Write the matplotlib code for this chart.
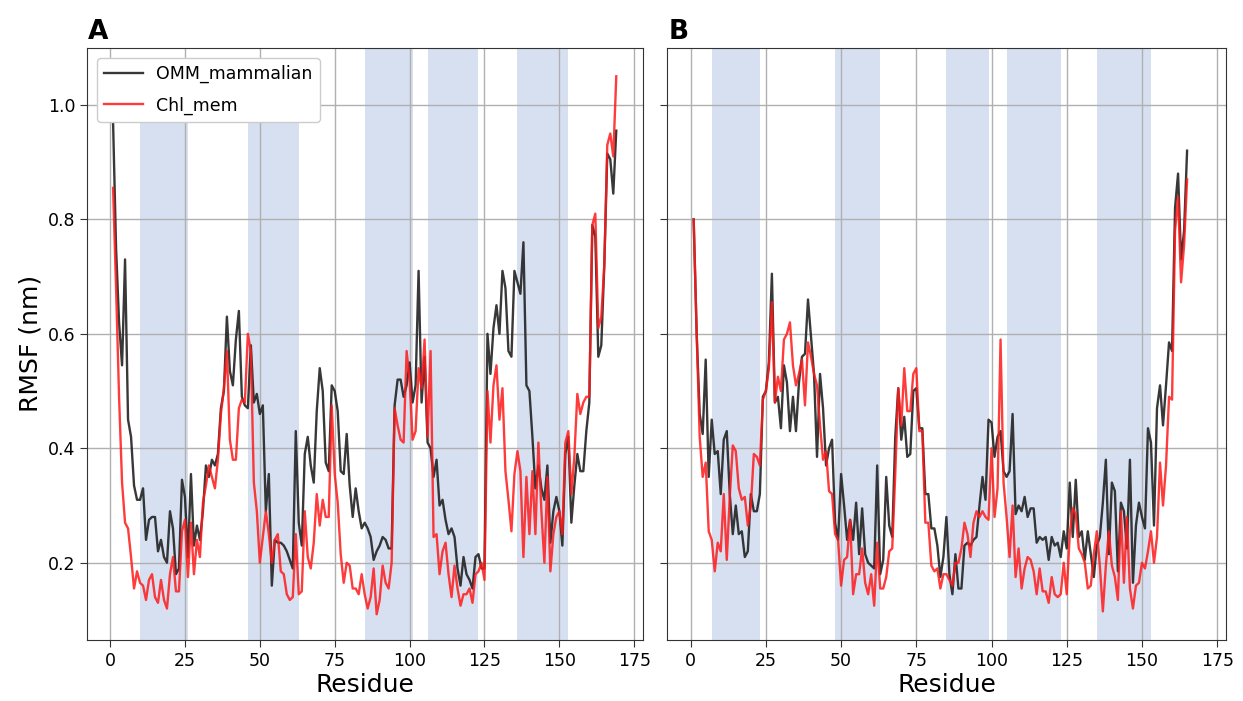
import matplotlib

matplotlib.use("Agg")
import matplotlib.pyplot as plt
import numpy as np

# RMSF per residue (nm), panel A
omm_a = [
    0.97, 0.75, 0.62, 0.545, 0.73, 0.45, 0.42, 0.335, 0.31, 0.31,
    0.33, 0.24, 0.275, 0.28, 0.28, 0.22, 0.24, 0.21, 0.2, 0.29,
    0.26, 0.18, 0.19, 0.345, 0.315, 0.21, 0.355, 0.23, 0.265, 0.24,
    0.29, 0.37, 0.35, 0.38, 0.37, 0.39, 0.47, 0.5, 0.63, 0.535,
    0.51, 0.59, 0.64, 0.49, 0.475, 0.47, 0.58, 0.48, 0.495, 0.46,
    0.475, 0.29, 0.355, 0.16, 0.24, 0.235, 0.235, 0.23, 0.22, 0.205,
    0.19, 0.43, 0.27, 0.23, 0.39, 0.42, 0.37, 0.34, 0.465, 0.54,
    0.5, 0.375, 0.36, 0.51, 0.5, 0.465, 0.36, 0.355, 0.425, 0.335,
    0.28, 0.33, 0.29, 0.26, 0.27, 0.26, 0.245, 0.205, 0.22, 0.23,
    0.245, 0.24, 0.225, 0.225, 0.475, 0.52, 0.52, 0.49, 0.51, 0.55,
    0.48, 0.51, 0.71, 0.48, 0.56, 0.41, 0.40, 0.35, 0.38, 0.30,
    0.31, 0.275, 0.25, 0.26, 0.245, 0.19, 0.16, 0.21, 0.18, 0.17,
    0.155, 0.21, 0.215, 0.19, 0.19, 0.6, 0.53, 0.61, 0.65, 0.6,
    0.71, 0.68, 0.57, 0.56, 0.71, 0.69, 0.67, 0.76, 0.51, 0.5,
    0.42, 0.33, 0.37, 0.33, 0.31, 0.37, 0.235, 0.29, 0.315, 0.29,
    0.23, 0.39, 0.42, 0.27, 0.335, 0.39, 0.36, 0.36, 0.43, 0.48,
    0.79, 0.77, 0.56, 0.58, 0.72, 0.915, 0.905, 0.845, 0.955,
]
chl_a = [
    0.855, 0.68, 0.49, 0.34, 0.27, 0.26, 0.21, 0.155, 0.185, 0.165,
    0.16, 0.135, 0.17, 0.18, 0.14, 0.13, 0.17, 0.135, 0.12, 0.18,
    0.21, 0.15, 0.15, 0.255, 0.275, 0.175, 0.27, 0.18, 0.24, 0.21,
    0.305, 0.335, 0.37, 0.35, 0.33, 0.38, 0.46, 0.505, 0.57, 0.415,
    0.38, 0.38, 0.47, 0.485, 0.48, 0.6, 0.57, 0.34, 0.29, 0.2,
    0.245, 0.29, 0.25, 0.2, 0.24, 0.25, 0.185, 0.18, 0.145, 0.135,
    0.14, 0.25, 0.145, 0.15, 0.29, 0.21, 0.19, 0.235, 0.32, 0.265,
    0.31, 0.28, 0.28, 0.475, 0.355, 0.305, 0.215, 0.165, 0.2, 0.195,
    0.155, 0.155, 0.145, 0.18, 0.145, 0.12, 0.14, 0.19, 0.11, 0.135,
    0.195, 0.165, 0.155, 0.2, 0.47, 0.44, 0.415, 0.41, 0.57, 0.52,
    0.415, 0.43, 0.54, 0.505, 0.59, 0.42, 0.57, 0.245, 0.25, 0.18,
    0.22, 0.235, 0.18, 0.14, 0.195, 0.155, 0.125, 0.145, 0.145, 0.155,
    0.13, 0.18, 0.185, 0.2, 0.17, 0.5, 0.41, 0.51, 0.545, 0.45,
    0.505, 0.36, 0.31, 0.255, 0.355, 0.395, 0.36, 0.21, 0.35, 0.25,
    0.36, 0.25, 0.41, 0.29, 0.2, 0.35, 0.185, 0.25, 0.28, 0.29,
    0.25, 0.41, 0.43, 0.32, 0.385, 0.495, 0.46, 0.48, 0.49, 0.49,
    0.79, 0.81, 0.61, 0.63, 0.72, 0.93, 0.95, 0.91, 1.05,
]

# panel B
omm_b = [
    0.8, 0.6, 0.46, 0.425, 0.555, 0.35, 0.45, 0.39, 0.395, 0.32,
    0.415, 0.43, 0.32, 0.25, 0.3, 0.25, 0.255, 0.21, 0.22, 0.32,
    0.29, 0.29, 0.32, 0.49, 0.5, 0.55, 0.705, 0.48, 0.49, 0.435,
    0.545, 0.515, 0.43, 0.49, 0.43, 0.515, 0.56, 0.565, 0.66, 0.595,
    0.53, 0.385, 0.53, 0.47, 0.37, 0.4, 0.415, 0.27, 0.24, 0.355,
    0.3, 0.24, 0.275, 0.24, 0.305, 0.215, 0.295, 0.215, 0.2, 0.195,
    0.19, 0.37, 0.18, 0.205, 0.35, 0.265, 0.245, 0.42, 0.505, 0.415,
    0.455, 0.385, 0.39, 0.5, 0.505, 0.435, 0.435, 0.32, 0.32, 0.26,
    0.26, 0.23, 0.175, 0.21, 0.28, 0.18, 0.145, 0.215, 0.155, 0.155,
    0.23, 0.235, 0.23, 0.24, 0.245, 0.3, 0.35, 0.31, 0.45, 0.445,
    0.385, 0.42, 0.43, 0.36, 0.35, 0.36, 0.46, 0.285, 0.3, 0.29,
    0.315, 0.28, 0.295, 0.295, 0.235, 0.245, 0.24, 0.245, 0.205, 0.245,
    0.23, 0.235, 0.21, 0.255, 0.225, 0.34, 0.245, 0.345, 0.245, 0.255,
    0.205, 0.255, 0.215, 0.175, 0.23, 0.245, 0.305, 0.38, 0.215, 0.34,
    0.325, 0.185, 0.305, 0.29, 0.225, 0.38, 0.165, 0.265, 0.305, 0.28,
    0.26, 0.435, 0.41, 0.265, 0.47, 0.51, 0.44, 0.51, 0.585, 0.57,
    0.82, 0.88, 0.73, 0.78, 0.92,
]
chl_b = [
    0.8, 0.6, 0.42, 0.35, 0.375, 0.255, 0.24, 0.185, 0.235, 0.22,
    0.32, 0.205, 0.315, 0.405, 0.395, 0.33, 0.31, 0.315, 0.265, 0.3,
    0.39, 0.385, 0.37, 0.485, 0.5, 0.54, 0.655, 0.48, 0.525, 0.5,
    0.59, 0.6, 0.62, 0.545, 0.51, 0.53, 0.555, 0.475, 0.585, 0.56,
    0.53, 0.51, 0.44, 0.38, 0.395, 0.325, 0.32, 0.25, 0.24, 0.16,
    0.205, 0.21, 0.275, 0.145, 0.18, 0.18, 0.225, 0.165, 0.145, 0.18,
    0.125, 0.235, 0.155, 0.155, 0.175, 0.22, 0.225, 0.355, 0.505, 0.44,
    0.54, 0.465, 0.465, 0.53, 0.54, 0.43, 0.43, 0.27, 0.27, 0.195,
    0.185, 0.19, 0.155, 0.18, 0.18, 0.17, 0.16, 0.2, 0.2, 0.225,
    0.27, 0.25, 0.21, 0.27, 0.29, 0.28, 0.29, 0.28, 0.275, 0.4,
    0.28, 0.33, 0.59, 0.34, 0.28, 0.21, 0.3, 0.175, 0.225, 0.155,
    0.19, 0.21, 0.205, 0.185, 0.145, 0.19, 0.15, 0.15, 0.13, 0.175,
    0.145, 0.14, 0.145, 0.2, 0.145, 0.25, 0.295, 0.285, 0.225, 0.215,
    0.2, 0.155, 0.16, 0.215, 0.255, 0.195, 0.115, 0.195, 0.255, 0.195,
    0.175, 0.135, 0.29, 0.165, 0.28, 0.155, 0.12, 0.16, 0.165, 0.2,
    0.19, 0.22, 0.255, 0.2, 0.245, 0.375, 0.3, 0.37, 0.49, 0.485,
    0.78, 0.84, 0.69, 0.755, 0.87,
]

# transmembrane segments (residue ranges) and the RMSF they are filled up to (None = full height)
tm_a = [(10, 26), (46, 63), (85, 101), (106, 123), (136, 153)]
tm_a_top = [0.97, 0.97, None, None, None]
tm_b = [(7, 23), (48, 63), (85, 99), (105, 123), (135, 153)]
tm_b_top = [None, None, None, None, None]

YLIM = (0.065, 1.1)

fig = plt.figure(figsize=(12.43, 7.01), dpi=100)
ax_a = fig.add_axes([0.070, 0.087, 0.447, 0.845])
ax_b = fig.add_axes([0.537, 0.087, 0.449, 0.845], sharex=ax_a, sharey=ax_a)


def draw_panel(ax, omm, chl, spans, tops, legend=False):
    for (lo, hi), top in zip(spans, tops):
        ymax = 1.0 if top is None else (top - YLIM[0]) / (YLIM[1] - YLIM[0])
        ax.axvspan(lo, hi, ymax=ymax, color="#d6e0f1", lw=0)
    ax.plot(np.arange(1, len(omm) + 1), omm, color="#222222", lw=1.7, alpha=0.9, label="OMM_mammalian")
    ax.plot(np.arange(1, len(chl) + 1), chl, color="#ff1a1a", lw=1.7, alpha=0.85, label="Chl_mem")
    ax.grid(True, color="#b0b0b0", lw=1.0)
    ax.tick_params(labelsize=12.5, length=5, color="#333333")
    for s in ax.spines.values():
        s.set_color("#333333")
    ax.set_xlabel("Residue", fontsize=18, labelpad=2)
    if legend:
        ax.legend(loc="upper left", fontsize=12.5, framealpha=1.0, edgecolor="#cccccc",
                  handlelength=2.2, labelspacing=0.75, borderaxespad=0.6)


draw_panel(ax_a, omm_a, chl_a, tm_a, tm_a_top, legend=True)
draw_panel(ax_b, omm_b, chl_b, tm_b, tm_b_top)

ax_a.set_xlim(-7.7, 177.8)
ax_a.set_ylim(*YLIM)
ax_a.set_xticks(np.arange(0, 176, 25))
ax_a.set_yticks([0.2, 0.4, 0.6, 0.8, 1.0])
ax_a.set_ylabel("RMSF (nm)", fontsize=18)
plt.setp(ax_b.get_yticklabels(), visible=False)

fig.text(0.071, 0.945, "A", fontsize=19, fontweight="bold")
fig.text(0.538, 0.945, "B", fontsize=19, fontweight="bold")

fig.savefig("out.png", dpi=100)
